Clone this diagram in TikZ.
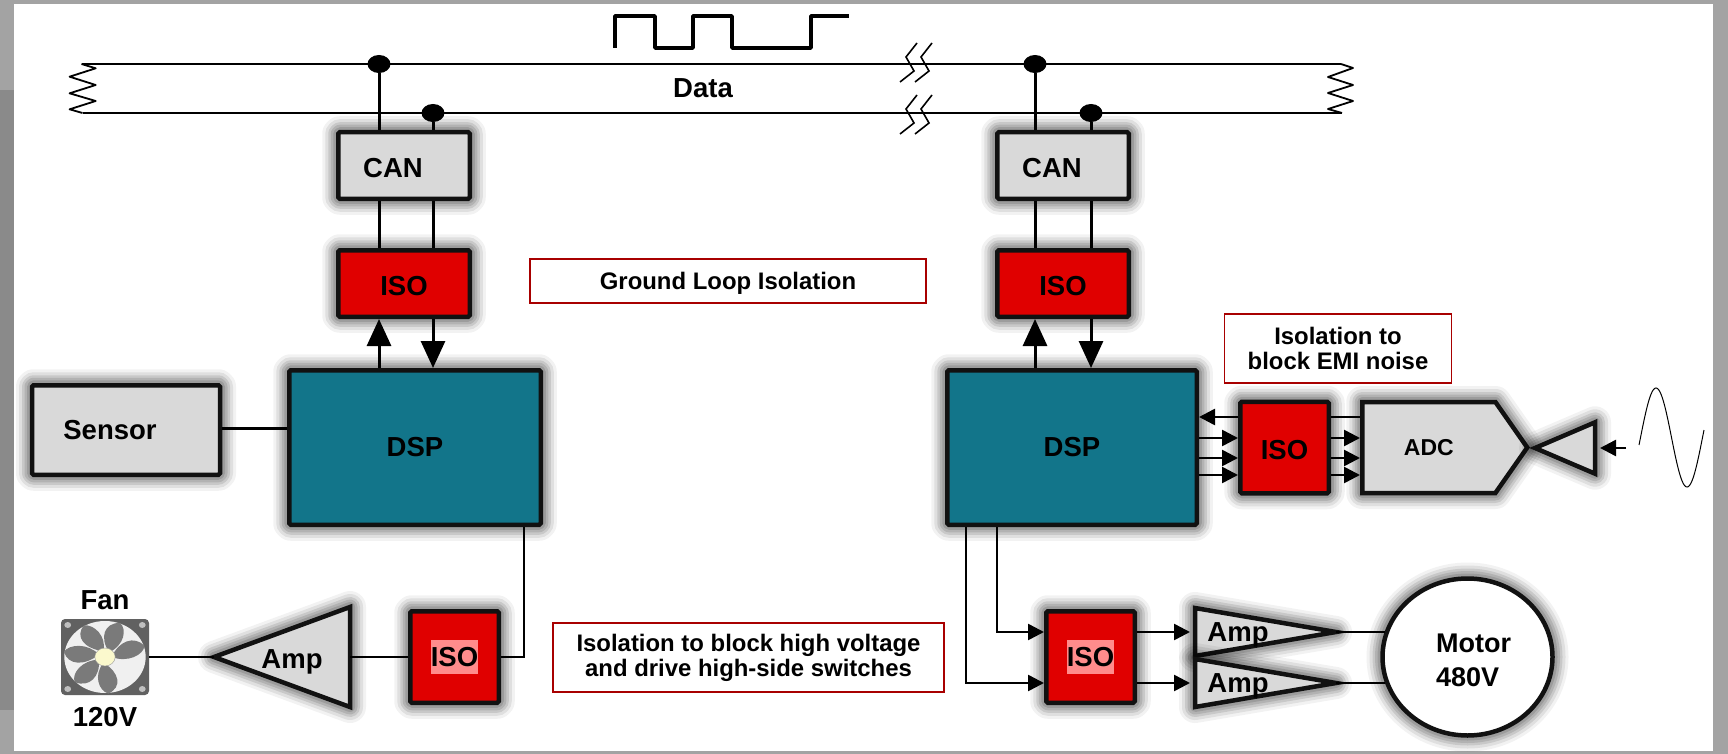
\documentclass[tikz,border=0pt]{standalone}
\usepackage{fontspec}
\setmainfont{Liberation Sans}
\usetikzlibrary{shapes.geometric, shapes.symbols, arrows.meta, positioning}
\definecolor{dspteal}{HTML}{12758A}
\definecolor{isored}{HTML}{E00000}
\definecolor{isopink}{HTML}{FF8C8C}
\definecolor{boxgray}{HTML}{D9D9D9}
\definecolor{edgeblack}{HTML}{111111}
\definecolor{notered}{HTML}{A80000}
\newcommand{\hilite}[1]{{\setlength{\fboxsep}{0pt}\colorbox{isopink}{\rule[-8pt]{0pt}{34pt}#1}}}

\begin{document}
\begin{tikzpicture}[
    x=1pt, y=-1pt,
    node distance=47pt and 39pt,
    glow/.style={
        preaction={draw=black, draw opacity=.05, line width=32pt, line join=round},
        preaction={draw=black, draw opacity=.08, line width=26pt, line join=round},
        preaction={draw=black, draw opacity=.10, line width=20pt, line join=round},
        preaction={draw=black, draw opacity=.11, line width=15pt, line join=round},
        preaction={draw=black, draw opacity=.12, line width=10pt, line join=round}},
    box/.style={rectangle, glow, draw=edgeblack, line width=4.5pt, rounded corners=1.5pt,
                inner sep=0pt, align=center, font=\fontsize{27.5}{32}\selectfont\bfseries},
    canbox/.style={box, fill=boxgray, minimum width=131.5pt, minimum height=66.5pt, text height=24pt},
    isobox/.style={box, fill=isored, minimum width=131.5pt, minimum height=66.5pt, text height=24pt},
    isosq/.style={box, fill=isored, minimum width=88.5pt, minimum height=91.5pt},
    dspbox/.style={box, fill=dspteal, minimum height=154.5pt},
    amp/.style={isosceles triangle, isosceles triangle stretches, shape border rotate=#1,
                glow, draw=edgeblack, fill=boxgray, line width=4.5pt, inner sep=0pt, outer sep=0pt},
    note/.style={rectangle, draw=notered, line width=1.6pt, fill=white, inner sep=0pt, align=center,
                 font=\fontsize{23.9}{25}\selectfont\bfseries},
    txt/.style={inner sep=0pt, align=center, font=\fontsize{27.5}{34}\selectfont\bfseries},
    dot/.style={ellipse, fill=black, minimum width=23pt, minimum height=18pt, inner sep=0pt},
    wire/.style={draw=black, line width=3pt},
    thinw/.style={draw=black, line width=2.2pt},
    bigarr/.style={wire, -{Triangle[length=27pt, width=24pt]}},
    arr/.style={draw=black, line width=2.6pt, -{Triangle[length=16pt, width=16pt]}},
]
    \useasboundingbox (0,0) rectangle (1728,754);
    \fill[black!36] (0,0) rectangle (1728,754);
    \fill[black!46] (0,90) rectangle (14,710);
    \fill[white] (14,4) rectangle (1713,751);

    \node[canbox] (cana) at (404,165.5) {CAN\hspace{22pt}};
    \node[isobox, below=of cana] (isoa) {ISO};
    \node[canbox] (canb) at (1063,165.5) {CAN\hspace{22pt}};
    \node[isobox, below=of canb] (isob) {ISO};
    \node[dspbox, minimum width=251.5pt] (dspa) at (415,447.5) {DSP};
    \node[dspbox, minimum width=249.5pt] (dspb) at (1072,447.5) {DSP};
    \node[box, fill=boxgray, minimum width=188pt, minimum height=89.5pt] (sensor) at (126,430) {Sensor\hspace{32pt}};
    \node[isosq, text height=24pt, right=of dspb] (isod) {ISO};
    \node[signal, signal to=east, signal from=nowhere, signal pointer angle=110, glow, draw=edgeblack,
          fill=boxgray, line width=4.5pt, inner sep=0pt, minimum width=165pt, minimum height=91pt,
          font=\fontsize{23}{28}\selectfont\bfseries, right=29pt of isod] (adc) {ADC};
    \node[amp=180, minimum width=51.4pt, minimum height=60pt, anchor=apex] (ampb) at (1535,448) {};
    \node[isosq] (isoc) at (454.5,657) {\hilite{ISO}};
    \node[isosq] (isoe) at (1090.5,657) {\hilite{ISO}};
    \node[amp=180, minimum width=100pt, minimum height=136pt, anchor=apex] (ampa) at (214,657) {};
    \node[amp=0, minimum width=48pt, minimum height=141pt, anchor=apex] (ampc) at (1336,632) {};
    \node[amp=0, minimum width=48pt, minimum height=141pt, anchor=apex] (ampd) at (1336,683) {};
    \node[txt] (ampatxt) at (292,662) {Amp};
    \node[txt] (ampctxt) at (1238,635) {Amp};
    \node[txt] (ampdtxt) at (1238,686) {Amp};
    \node[ellipse, glow, draw=edgeblack, fill=white, line width=4.5pt, inner sep=0pt,
          minimum width=170pt, minimum height=157pt, align=left,
          font=\fontsize{27}{34}\selectfont\bfseries] (motor) at (1467.5,657) {\hspace*{12pt}\rule{0pt}{25pt}Motor\\\hspace*{12pt}480V};

    \node[rectangle, fill=black!62, rounded corners=4pt, minimum width=88pt, minimum height=76pt, inner sep=0pt] (fan) at (105,657) {};
    \begin{scope}[shift={(fan.center)}, xscale=1.13]
        \fill[black!6] (0,0) circle (36);
        \foreach \ang in {0,51.4,...,308} {
            \fill[black!52, rotate=\ang] (6,0) .. controls (12,-16) and (26,-22) .. (35,-11) .. controls (34,-2) and (20,6) .. (6,0) -- cycle;
        }
        \fill[black!8!yellow!20!white, draw=black!40] (0,0) circle (9);
        \foreach \sx in {-1,1} \foreach \sy in {-1,1} {
            \fill[black!25] (33*\sx,32*\sy) circle (3);
        }
    \end{scope}
    \node[txt, above=9pt of fan] (fanlabel) {Fan};
    \node[txt, below=12pt of fan] (fanvolt) {120V};

    \node[note, minimum width=396pt, minimum height=44pt] (notea) at (728,281) {\rule{0pt}{21pt}Ground Loop Isolation};
    \node[note, minimum width=227pt, minimum height=69pt] (noteb) at (1338,348.5) {Isolation to\\block EMI noise};
    \node[note, minimum width=391pt, minimum height=69pt] (notec) at (748.5,657.5) {Isolation to block high voltage\\and drive high-side switches};
    \node[txt] (data) at (703,88) {Data};

    \coordinate (busla) at (81.5,64);
    \coordinate (buslb) at (82.5,113);
    \coordinate (busra) at (1341,64);
    \coordinate (busrb) at (1342,113);
    \draw[thinw] (busla) -- (busra);
    \draw[thinw] (buslb) -- (busrb);
    \draw[black, line width=1.8pt, line join=round] (busla) -- (95.7,68.3) -- (69.6,76.7) -- (95.7,85) -- (69.6,93.3) -- (95.7,101) -- (69.6,109.3) -- (buslb);
    \draw[black, line width=1.8pt, line join=round] (busra) -- (1353,68) -- (1328,77) -- (1353,85) -- (1328,93) -- (1353,101) -- (1328,109) -- (busrb);
    \foreach \dx in {0,15} \foreach \dy in {0,52} {
        \draw[black, line width=1.6pt, shift={(\dx,\dy)}] (917,43) -- (906,57) -- (914,71) -- (900,82);
    }
    \draw[black, line width=3.5pt, line join=round] (615,48) -- (615,16) -- (655,16) -- (655,48) -- (693,48) -- (693,16) -- (732,16) -- (732,48) -- (811,48) -- (811,16) -- (849,16);

    \node[dot] (tapa) at (379,64) {};
    \node[dot] (tapb) at (433,113) {};
    \node[dot] (tapc) at (1035,64) {};
    \node[dot] (tapd) at (1091,113) {};

    \draw[wire] (tapa) -- (tapa |- cana.north);
    \draw[wire] (tapb) -- (tapb |- cana.north);
    \draw[wire] (tapa |- cana.south) -- (tapa |- isoa.north);
    \draw[wire] (tapb |- cana.south) -- (tapb |- isoa.north);
    \draw[bigarr] (tapa |- dspa.north) -- (tapa |- isoa.south);
    \draw[bigarr] (tapb |- isoa.south) -- (tapb |- dspa.north);
    \draw[wire] (tapc) -- (tapc |- canb.north);
    \draw[wire] (tapd) -- (tapd |- canb.north);
    \draw[wire] (tapc |- canb.south) -- (tapc |- isob.north);
    \draw[wire] (tapd |- canb.south) -- (tapd |- isob.north);
    \draw[bigarr] (tapc |- dspb.north) -- (tapc |- isob.south);
    \draw[bigarr] (tapd |- isob.south) -- (tapd |- dspb.north);

    \draw[wire] (sensor.east |- 0,428) -- (dspa.west |- 0,428);
    \coordinate (fandrop) at (524,657);
    \draw[thinw] (fandrop |- dspa.south) -- (fandrop) -- (isoc.east);
    \draw[thinw] (isoc.west) -- (ampa.lower side);
    \draw[thinw] (ampa.apex) -- (fan.east);

    \draw[arr] (isod.west |- 0,417) -- (dspb.east |- 0,417);
    \draw[thinw] (isod.east |- 0,417) -- (adc.west |- 0,417);
    \foreach \row in {438,458,475} {
        \draw[arr] (dspb.east |- 0,\row) -- (isod.west |- 0,\row);
        \draw[arr] (isod.east |- 0,\row) -- (adc.west |- 0,\row);
    }
    \coordinate (sigin) at (1626,448);
    \draw[arr, shorten >=5pt] (sigin) -- (ampb.lower side);
    \draw[black, line width=1pt, domain=-1.5:63.5, samples=70, smooth, shift={(1640.5,0)}] plot (\x, {437.5-49.5*sin(5.806*\x)});

    \coordinate (rowa) at (997,632);
    \coordinate (rowb) at (966,683);
    \draw[arr] (rowa |- dspb.south) -- (rowa) -- (rowa -| isoe.west);
    \draw[arr] (rowb |- dspb.south) -- (rowb) -- (rowb -| isoe.west);
    \draw[arr, shorten >=5pt] (rowa -| isoe.east) -- (ampc.lower side);
    \draw[arr, shorten >=5pt] (rowb -| isoe.east) -- (ampd.lower side);
    \draw[thinw] (ampc.apex) -- (ampc.apex -| motor.163);
    \draw[thinw] (ampd.apex) -- (ampd.apex -| motor.197);
\end{tikzpicture}
\end{document}
